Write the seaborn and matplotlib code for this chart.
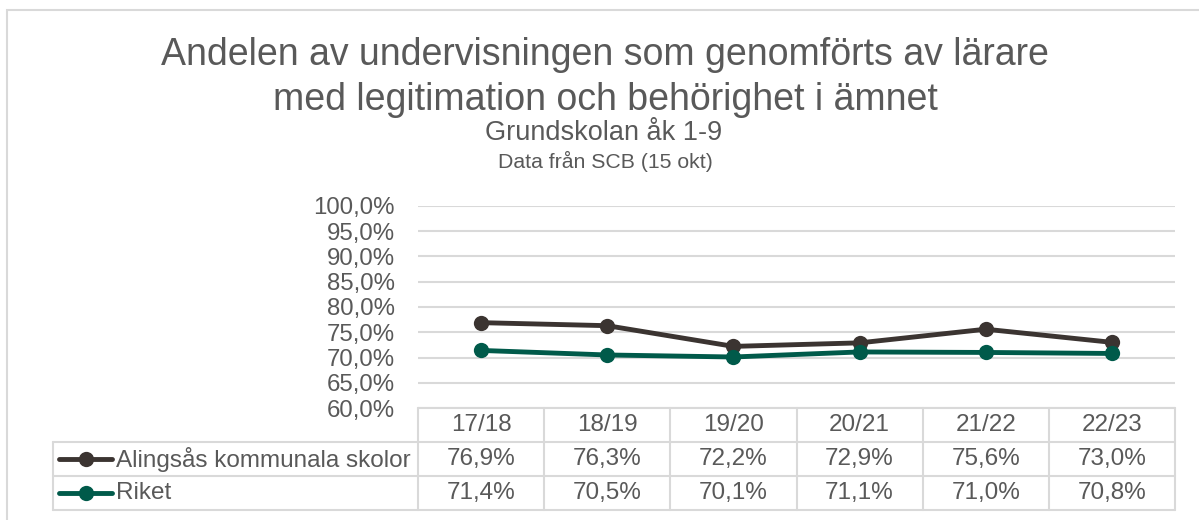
import pandas as pd
import matplotlib.pyplot as plt
import seaborn as sns
from matplotlib.patches import Rectangle
from matplotlib.lines import Line2D

# data
years = ['17/18', '18/19', '19/20', '20/21', '21/22', '22/23']
alingsas = [76.9, 76.3, 72.2, 72.9, 75.6, 73.0]
riket = [71.4, 70.5, 70.1, 71.1, 71.0, 70.8]
series_names = ['Alingsås kommunala skolor', 'Riket']
yticks = [60, 65, 70, 75, 80, 85, 90, 95, 100]

colors = ['#3b3431', '#005a4a']
text_col = '#595959'
grid_col = '#d9d9d9'

sns.set_theme(style='white')
plt.rcParams['font.family'] = ['Liberation Sans', 'DejaVu Sans']

W, H = 1199, 520
fig = plt.figure(figsize=(W / 100, H / 100), dpi=100)


def fx(px):
    return px / W


def fy(py):
    return 1 - py / H


# outer chart frame
fig.patches.append(Rectangle((fx(7), fy(560)), fx(1250) - fx(7), fy(10) - fy(560),
                             transform=fig.transFigure, fill=False,
                             edgecolor=grid_col, linewidth=1.5))

# titles
fig.text(fx(605), fy(55), 'Andelen av undervisningen som genomförts av lärare',
         ha='center', va='center', fontsize=27, color=text_col)
fig.text(fx(605), fy(100), 'med legitimation och behörighet i ämnet',
         ha='center', va='center', fontsize=27, color=text_col)
fig.text(fx(604), fy(133), 'Grundskolan åk 1-9',
         ha='center', va='center', fontsize=19.5, color=text_col)
fig.text(fx(605), fy(161), 'Data från SCB (15 okt)',
         ha='center', va='center', fontsize=15.3, color=text_col)

# plot area
left, right, top, bottom = 418, 1175, 206, 408
ax = fig.add_axes([fx(left), fy(bottom), fx(right) - fx(left), fy(top) - fy(bottom)])

df = pd.DataFrame({'x': list(range(len(years))) * 2,
                   'value': alingsas + riket,
                   'serie': [series_names[0]] * len(years) + [series_names[1]] * len(years)})

for name, col in zip(series_names, colors):
    sub = df[df['serie'] == name]
    sns.lineplot(data=sub, x='x', y='value', color=col, marker='o', markersize=11,
                 markeredgewidth=0, linewidth=3.5, ax=ax, legend=False, zorder=3)

ax.set_xlim(-0.5, len(years) - 0.5)
ax.set_ylim(60, 100)
ax.set_yticks(yticks)
ax.set_yticklabels([f'{t:.1f}%'.replace('.', ',') for t in yticks],
                   fontsize=17.3, color=text_col)
ax.tick_params(axis='y', length=0, pad=16.5)
ax.set_xticks([])
ax.set_xlabel('')
ax.set_ylabel('')
for s in ax.spines.values():
    s.set_visible(False)
ax.grid(axis='y', color=grid_col, linewidth=1.5)
ax.set_axisbelow(True)

# data table below the plot area
row_h = 34
col_w = (right - left) / len(years)
leg_left = 53
tl = dict(color=grid_col, linewidth=1.5, transform=fig.transFigure, clip_on=False)

fig.add_artist(Line2D([fx(left), fx(right)], [fy(bottom), fy(bottom)], **tl))
for r in range(1, 4):
    yy = fy(bottom + r * row_h)
    fig.add_artist(Line2D([fx(leg_left), fx(right)], [yy, yy], **tl))
fig.add_artist(Line2D([fx(leg_left), fx(leg_left)], [fy(bottom + row_h), fy(bottom + 3 * row_h)], **tl))
for i in range(len(years) + 1):
    xx = fx(left + i * col_w)
    fig.add_artist(Line2D([xx, xx], [fy(bottom), fy(bottom + 3 * row_h)], **tl))

for i, yr in enumerate(years):
    cx = fx(left + (i + 0.5) * col_w)
    fig.text(cx, fy(bottom + 0.5 * row_h), yr, ha='center', va='center',
             fontsize=17.5, color=text_col)
    for r, vals in enumerate([alingsas, riket]):
        fig.text(cx, fy(bottom + (r + 1.5) * row_h),
                 f'{vals[i]:.1f}%'.replace('.', ','),
                 ha='center', va='center', fontsize=17.5, color=text_col)

# legend keys inside the table
for r, (name, col) in enumerate(zip(series_names, colors)):
    yy = fy(bottom + (r + 1.5) * row_h)
    fig.add_artist(Line2D([fx(59), fx(112)], [yy, yy], color=col, linewidth=3.5,
                          transform=fig.transFigure, solid_capstyle='round'))
    fig.add_artist(Line2D([fx(86)], [yy], color=col, marker='o', markersize=11,
                          markeredgewidth=0, transform=fig.transFigure))
    fig.text(fx(116), yy, name, ha='left', va='center', fontsize=17.5, color=text_col)

plt.savefig('out.png', dpi=100)
